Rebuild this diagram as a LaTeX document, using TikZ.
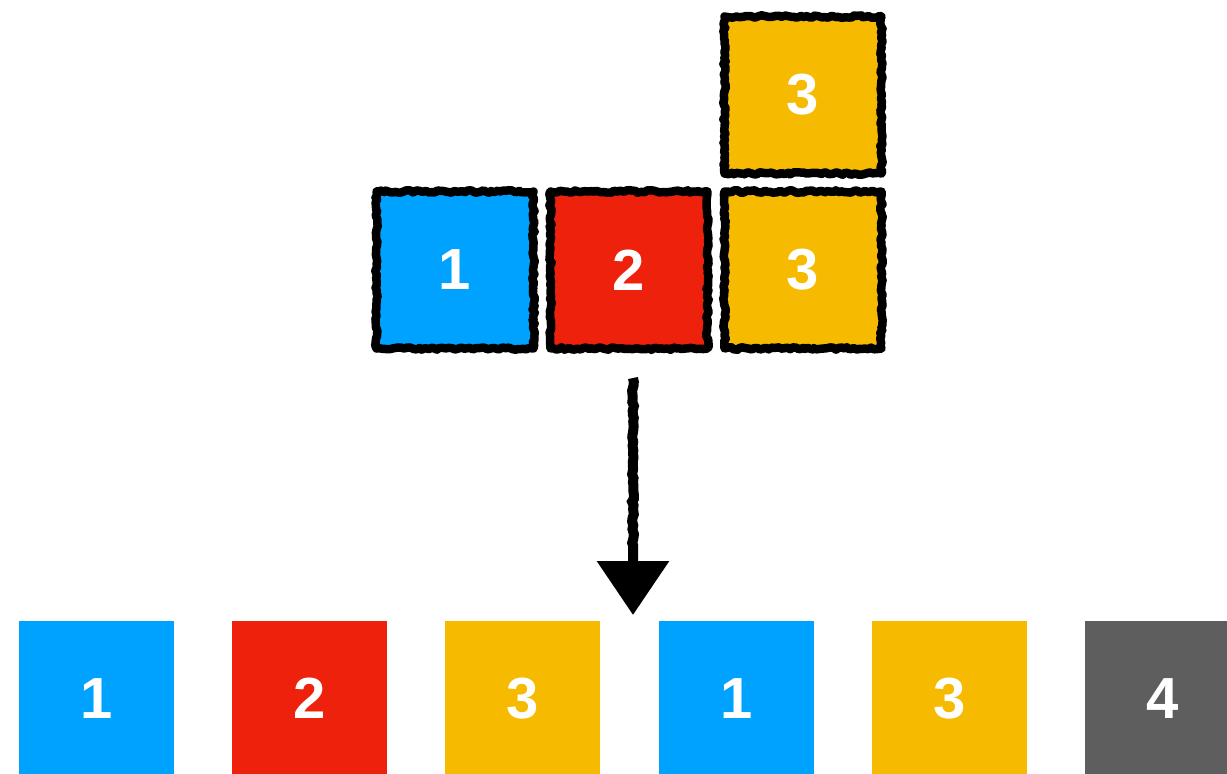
\documentclass[tikz,border=0pt]{standalone}
\usepackage{fontspec}
\setmainfont{Liberation Sans}
\usetikzlibrary{arrows.meta,decorations.pathmorphing}
\definecolor{kblue}{HTML}{00A2FF}
\definecolor{kred}{HTML}{EE220C}
\definecolor{kyellow}{HTML}{F6BA00}
\definecolor{kgray}{HTML}{5E5E5E}
\pgfmathsetseed{11}
\tikzset{
  digit/.style={text=white, font=\fontsize{58}{60}\selectfont\bfseries},
  flatbox/.style={digit, rectangle, minimum size=155pt, inner sep=0pt},
  sketchbox/.style={digit, rectangle, minimum size=157pt, inner sep=0pt,
    draw=black, line width=8.5pt, line join=round,
    decorate, decoration={random steps, segment length=3pt, amplitude=1.3pt},
    postaction={draw=black, line width=3pt, decorate,
      decoration={random steps, segment length=2pt, amplitude=2.2pt}}},
  sketcharrow/.style={draw=black, line width=10pt,
    decorate, decoration={random steps, segment length=4pt, amplitude=1pt,
      post=lineto, post length=70pt},
    -{Triangle[width=70pt,length=54pt]}}
}
\begin{document}
\begin{tikzpicture}[x=1pt,y=-1pt]
  \clip (0,0) rectangle (1227,774);
  \fill[white] (0,0) rectangle (1227,774);

  % stacked blocks
  \node[sketchbox, fill=kblue]   (s1)  at (455,270) {1};
  \node[sketchbox, fill=kred]    (s2)  at (629,270) {2};
  \node[sketchbox, fill=kyellow] (s3)  at (803,270) {3};
  \node[sketchbox, fill=kyellow] (s3b) at (803,95)  {3};

  % flattening arrow
  \coordinate (atop) at (633,378);
  \coordinate (atip) at (633,615);
  \draw[sketcharrow] (atop) -- (atip);

  % flat row
  \node[flatbox, fill=kblue]   (f1) at (96.5,698.5)   {1};
  \node[flatbox, fill=kred]    (f2) at (309.5,698.5)  {2};
  \node[flatbox, fill=kyellow] (f3) at (522.5,698.5)  {3};
  \node[flatbox, fill=kblue]   (f4) at (736.5,698.5)  {1};
  \node[flatbox, fill=kyellow] (f5) at (949.5,698.5)  {3};
  \node[flatbox, fill=kgray]   (f6) at (1162.5,698.5) {4};
\end{tikzpicture}
\end{document}
